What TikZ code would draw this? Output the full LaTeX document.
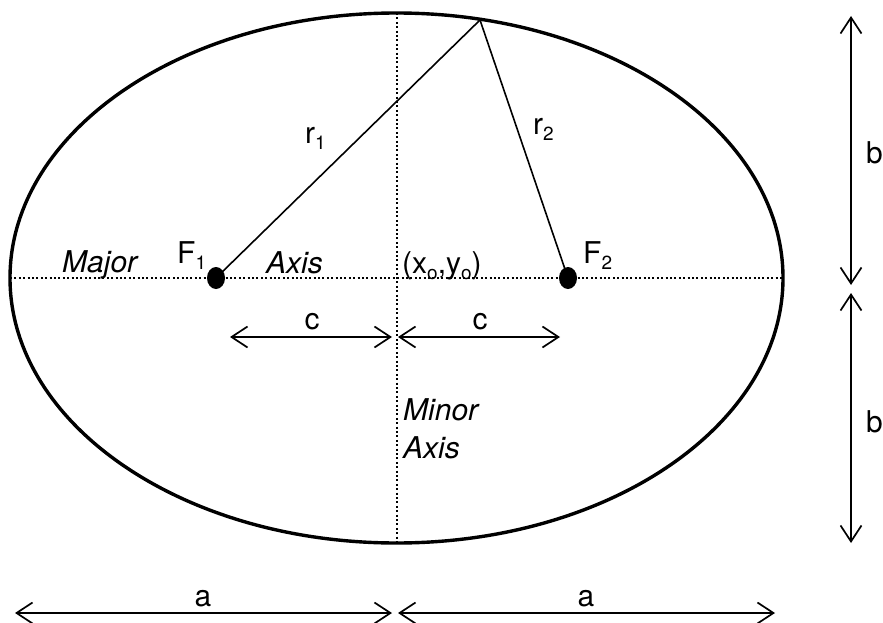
\documentclass[tikz,border=0pt]{standalone}
\usepackage{fontspec}
\setmainfont{TeX Gyre Heros}
\usepackage{tikz}
\usetikzlibrary{arrows.meta,shapes.geometric}

\newcommand{\lowsub}[1]{\raisebox{-6pt}{\fontsize{19}{20}\selectfont #1}}

\begin{document}
\begin{tikzpicture}[
    x=1pt, y=-1pt,
    font=\fontsize{30}{34}\selectfont,
    lbl/.style ={inner sep=0pt, anchor=base west},
    clbl/.style={inner sep=0pt, anchor=base},
    axlbl/.style={lbl, font=\fontsize{30}{34}\selectfont\itshape},
    focus/.style={ellipse, fill=black, minimum width=18pt,
                  minimum height=22pt, inner sep=0pt},
    rim/.style ={line width=3.4pt},
    dotline/.style={line width=2pt, dash pattern=on 2pt off 2.4pt},
    rline/.style={line width=1.6pt},
    arr/.style ={{Straight Barb[length=16pt,width=21pt]}-{Straight Barb[length=16pt,width=21pt]},
                 line width=1.7pt}
]
\useasboundingbox (0,0) rectangle (883,623);
% --- ellipse and axes -------------------------------------------------
\coordinate (ctr) at (396.5,278);
\coordinate (left)   at (10,278);
\coordinate (right)  at (783,278);
\coordinate (top)    at (396.5,13);
\coordinate (bottom) at (396.5,543);
\draw[rim] (ctr) ellipse [x radius=386.5pt, y radius=265pt];
\draw[dotline] (left) -- (right);
\draw[dotline] (top) -- (bottom);
% --- foci and radii ---------------------------------------------------
\node[focus] (f1) at (216,278) {};
\node[focus] (f2) at (568,278) {};
\coordinate (p) at (480,20);
\draw[rline] (f1.center) -- (p);
\draw[rline] (f2.center) -- (p);
% --- labels -----------------------------------------------------------
\node[axlbl] (major) at (62,272)  {Major};
\node[axlbl] (axis)  at (266,273) {Axis};
\node[lbl]   (lf1)   at (177,263) {F\lowsub{1}};
\node[lbl]   (lf2)   at (583,263) {F\lowsub{2}};
\node[lbl]   (orig)  at (402,273) {(x\lowsub{o},y\lowsub{o})};
\node[lbl]   (lr1)   at (305,143) {r\lowsub{1}};
\node[lbl]   (lr2)   at (533,135) {r\lowsub{2}};
\node[axlbl] (minor) at (403,420) {Minor};
\node[axlbl] (axis2) at (403,458) {Axis};
% --- c arrows ---------------------------------------------------------
\coordinate (c1a) at (230,337);
\coordinate (c1b) at (392,337);
\coordinate (c2a) at (398,337);
\coordinate (c2b) at (560,337);
\draw[arr] (c1a) -- (c1b);
\draw[arr] (c2a) -- (c2b);
\node[clbl] (lc1) at (312,329) {c};
\node[clbl] (lc2) at (480,329) {c};
% --- b arrows ---------------------------------------------------------
\coordinate (b1a) at (851,16);
\coordinate (b1b) at (851,285);
\coordinate (b2a) at (851,293);
\coordinate (b2b) at (851,543);
\draw[arr] (b1a) -- (b1b);
\draw[arr] (b2a) -- (b2b);
\node[lbl] (lb1) at (866,163) {b};
\node[lbl] (lb2) at (866,432) {b};
% --- a arrows ---------------------------------------------------------
\coordinate (a1a) at (15,613);
\coordinate (a1b) at (392,613);
\coordinate (a2a) at (398,613);
\coordinate (a2b) at (775,613);
\draw[arr] (a1a) -- (a1b);
\draw[arr] (a2a) -- (a2b);
\node[clbl] (la1) at (203,606) {a};
\node[clbl] (la2) at (586,606) {a};
\end{tikzpicture}
\end{document}
